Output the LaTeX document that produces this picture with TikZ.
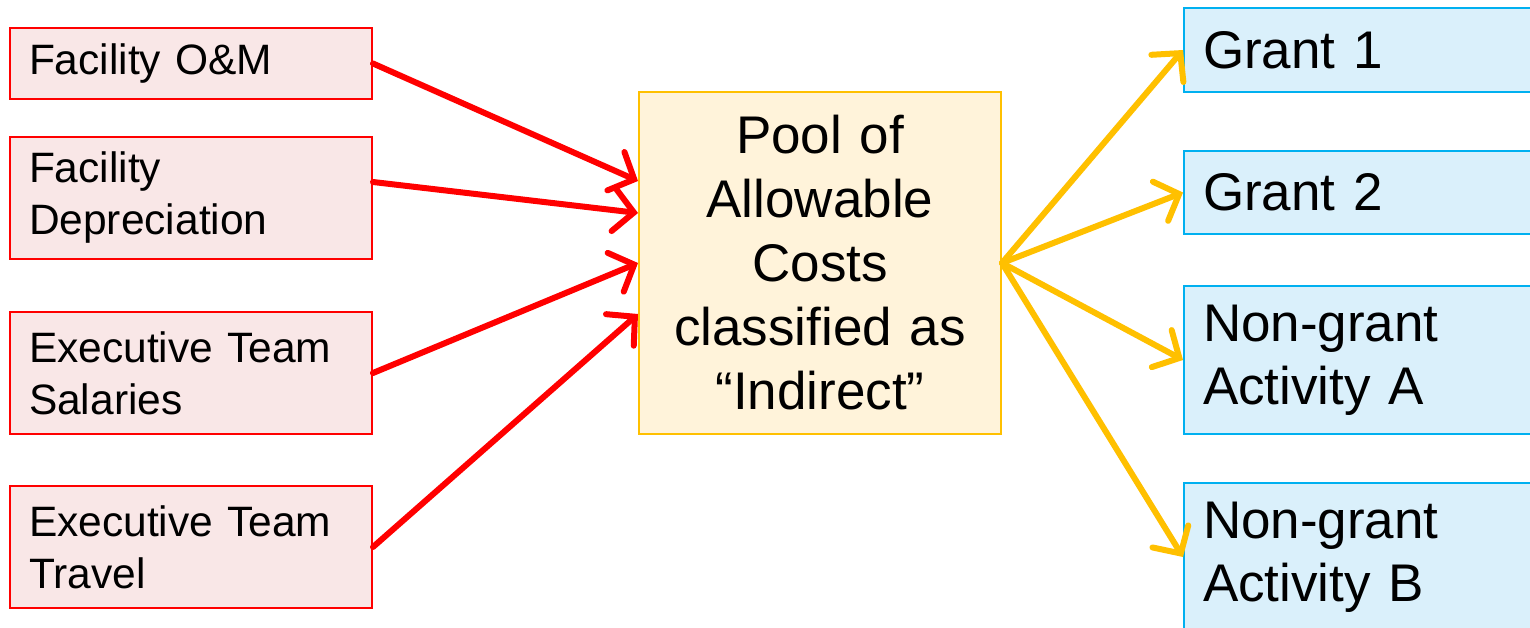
\documentclass[tikz,border=0pt]{standalone}
\usepackage{fontspec}
\setmainfont{Liberation Sans}[WordSpace=0.65]
\usetikzlibrary{arrows.meta}

\definecolor{srcfill}{HTML}{F9E7E7}
\definecolor{srcline}{HTML}{FF0000}
\definecolor{poolfill}{HTML}{FFF3DA}
\definecolor{poolline}{HTML}{FFC000}
\definecolor{dstfill}{HTML}{DAF0FB}
\definecolor{dstline}{HTML}{00B0F0}

\begin{document}
\begin{tikzpicture}[x=1pt,y=-1pt,
  box/.style={draw, line width=2pt, anchor=north west, inner sep=0pt,
    minimum width=362pt},
  src/.style={box, draw=srcline, fill=srcfill, text width=324pt, align=left,
    font=\fontsize{42.5}{52}\selectfont},
  pool/.style={box, draw=poolline, fill=poolfill, text width=340pt, align=center,
    font=\fontsize{53}{64}\selectfont},
  dst/.style={box, draw=dstline, fill=dstfill, text width=324pt, align=left,
    font=\fontsize{53}{63}\selectfont},
  flow/.style={line width=6pt, line cap=round,
    -{Straight Barb[length=20pt,width=42pt,line cap=round]}},
  inflow/.style={flow, draw=srcline},
  outflow/.style={flow, draw=poolline}
]
\clip (0,0) rectangle (1530,628);
\fill[white] (0,0) rectangle (1530,628);

% cost sources
\node[src, minimum height=71pt]  (f1) at (9,27)  {Facility O\&M};
\node[src, minimum height=122pt] (f2) at (9,136) {Facility\\Depreciation};
\node[src, minimum height=122pt] (f3) at (9,311) {Executive Team\\Salaries};
\node[src, minimum height=122pt] (f4) at (9,485) {Executive Team\\Travel};

% indirect cost pool
\node[pool, minimum height=342pt] (pool) at (638,91)
  {Pool of\\Allowable\\Costs\\classified as\\``Indirect''};

% cost objectives
\node[dst, minimum height=84pt]  (g1) at (1183,7)   {Grant 1};
\node[dst, minimum height=83pt]  (g2) at (1183,150) {Grant 2};
\node[dst, minimum height=148pt] (na) at (1183,285) {Non-grant\\Activity A};
\node[dst, minimum height=148pt] (nb) at (1183,482) {Non-grant\\Activity B};

% costs flowing into the pool
\draw[inflow] (f1.east) -- ([yshift=82pt]pool.west);
\draw[inflow] ([yshift=16pt]f2.east) -- ([yshift=50pt]pool.west);
\draw[inflow] (f3.east) -- (pool.west);
\draw[inflow] (f4.east) -- ([yshift=-51pt]pool.west);

% pool allocated to cost objectives
\draw[outflow] (pool.east) -- (g1.west);
\draw[outflow] (pool.east) -- (g2.west);
\draw[outflow] (pool.east) -- (na.west);
\draw[outflow] (pool.east) -- (nb.west);
\end{tikzpicture}
\end{document}
